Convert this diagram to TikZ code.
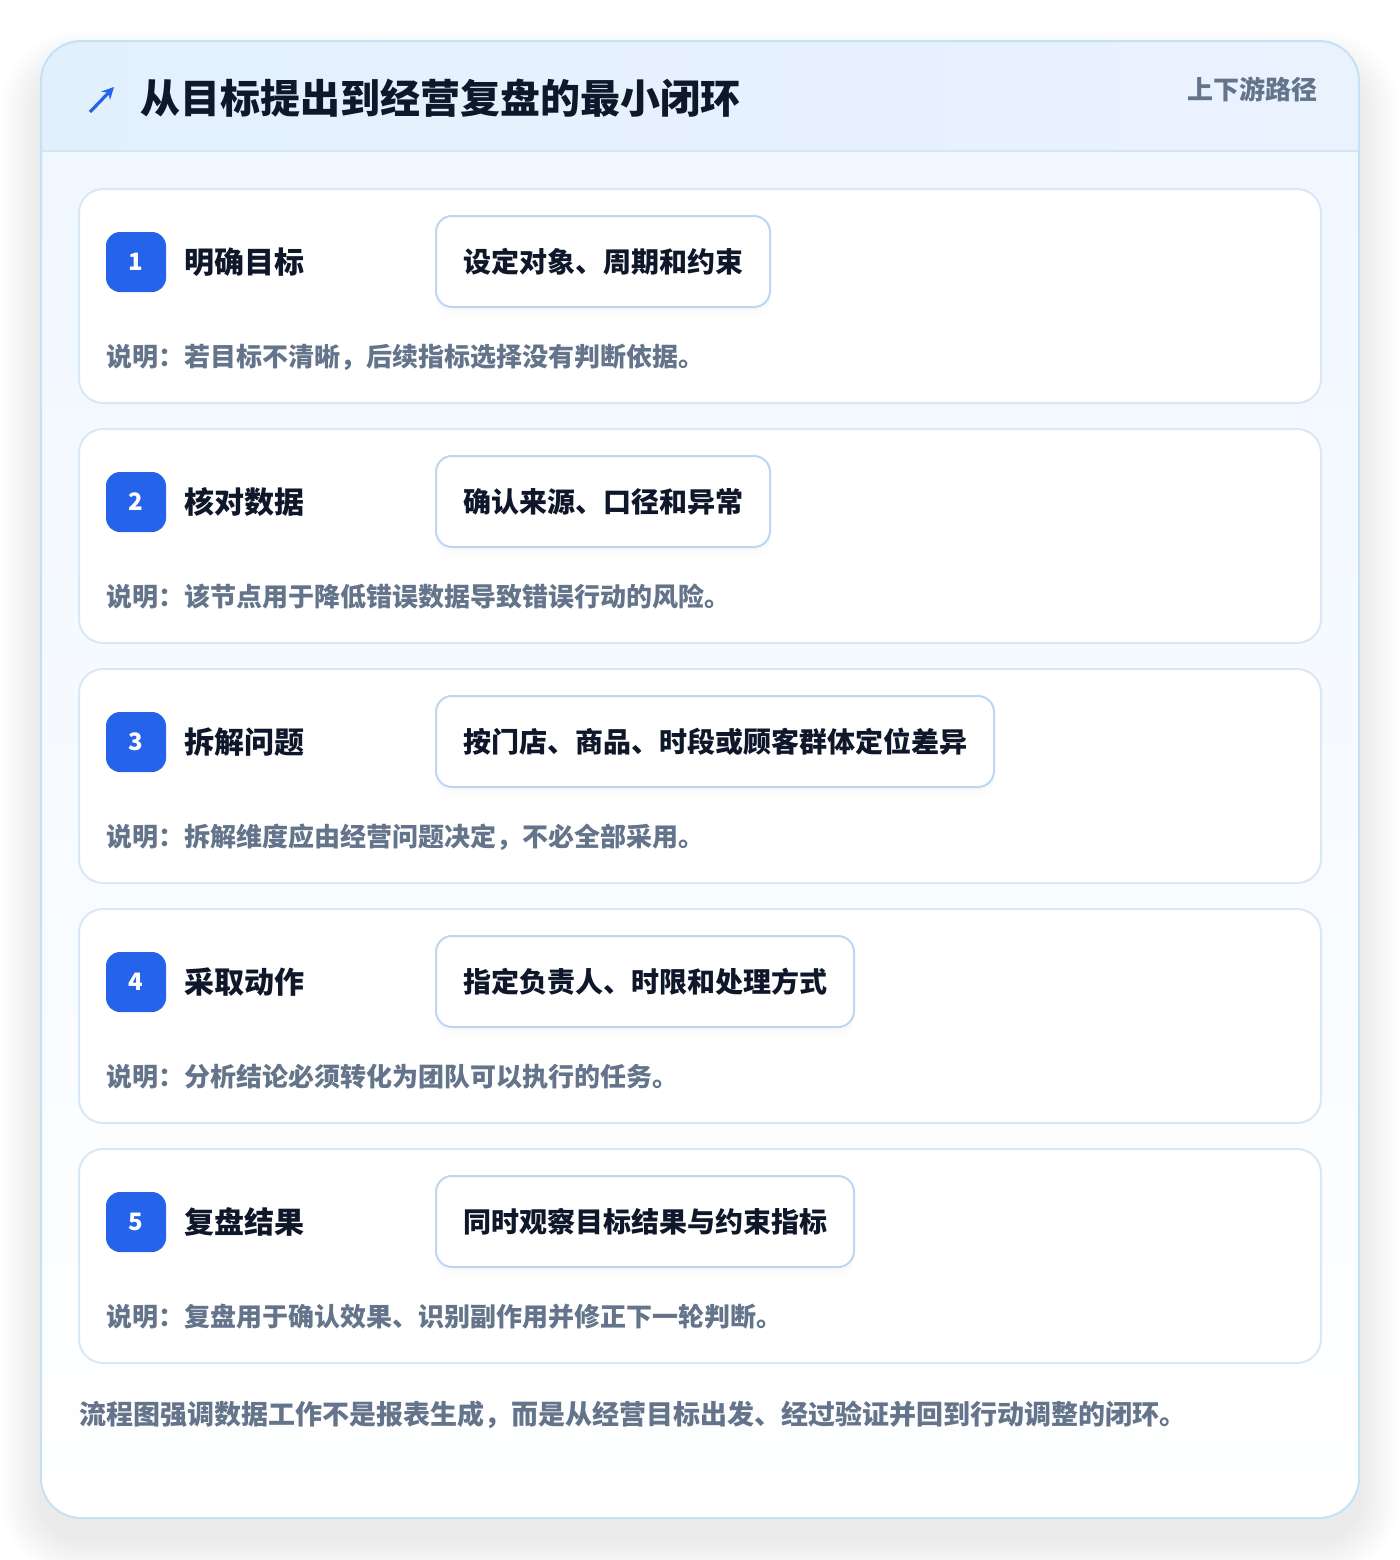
\documentclass[tikz,border=0pt]{standalone}
\usepackage{fontspec}
\setmainfont{Noto Sans CJK SC}
\usetikzlibrary{positioning,shadows,arrows.meta}

\definecolor{stepblue}{HTML}{2563EB}
\definecolor{inkdark}{HTML}{0F172A}
\definecolor{inkgray}{HTML}{64748B}
\definecolor{hdrleft}{HTML}{E2F0FD}
\definecolor{hdrright}{HTML}{EAF2FE}
\definecolor{bodytop}{HTML}{F0F7FF}
\definecolor{panelline}{HTML}{C3E2F6}
\definecolor{hdrline}{HTML}{D3E6F8}
\definecolor{cardline}{HTML}{D9E8F6}
\definecolor{pillline}{HTML}{BDD6F1}

\begin{document}
\begin{tikzpicture}[
  x=0.5pt,y=-0.5pt,
  every node/.style={inner sep=0pt,font=\bfseries},
  card/.style={draw=cardline,line width=1pt,fill=white,rounded corners=12pt,
    minimum width=621pt,minimum height=107pt},
  badge/.style={fill=stepblue,text=white,rounded corners=7pt,minimum size=30pt,
    font=\fontsize{12}{14}\selectfont\bfseries},
  steptitle/.style={anchor=west,text=inkdark,font=\fontsize{15}{18}\selectfont\bfseries},
  pill/.style={anchor=west,draw=pillline,line width=1pt,fill=white,rounded corners=8pt,
    minimum height=45.5pt,inner xsep=13.5pt,text=inkdark,
    font=\fontsize{14}{17}\selectfont\bfseries,
    drop shadow={opacity=0.025,shadow xshift=0pt,shadow yshift=-2pt},
    drop shadow={opacity=0.025,shadow xshift=0pt,shadow yshift=-5pt}},
  desc/.style={anchor=west,text=inkgray,font=\fontsize{13}{16}\selectfont\bfseries},
  ]
  \useasboundingbox (0,0) rectangle (1400,1560);
  % soft shadow of the panel
  \foreach \i in {1,...,10}{
    \pgfmathsetmacro\r{4*\i}
    \fill[black,opacity=0.007,rounded corners=20pt+\r*0.5pt]
      (41-\r,71-\r) rectangle (1359+\r,1538+\r);
  }
  % panel
  \begin{scope}
    \clip[rounded corners=20pt] (41,41) rectangle (1359,1518);
    \shade[left color=hdrleft,right color=hdrright] (41,41) rectangle (1359,151);
    \shade[top color=bodytop,bottom color=white] (41,151) rectangle (1359,1518);
  \end{scope}
  \draw[hdrline,line width=1pt] (41,151) -- (1359,151);
  \draw[panelline,line width=1pt,rounded corners=20pt] (41,41) rectangle (1359,1518);

  % header
  \draw[stepblue,line width=1.6pt,-{Stealth[length=6pt,width=6pt]}] (90,112) -- (114,87);
  \node[anchor=west,text=inkdark,font=\fontsize{20}{24}\selectfont\bfseries] (title) at (140,98)
    {从目标提出到经营复盘的最小闭环};
  \node[anchor=east,text=inkgray,font=\fontsize{13}{16}\selectfont\bfseries] (route) at (1318,89)
    {上下游路径};

  % step 1
  \node[card] (card1) at (700,296) {};
  \node[badge] (badge1) at (136,262) {1};
  \node[steptitle,right=9pt of badge1] (name1) {明确目标};
  \node[pill] (pill1) at (435,261.5) {设定对象、周期和约束};
  \node[desc] (note1) at (106,357) {说明：若目标不清晰，后续指标选择没有判断依据。};

  % step 2
  \node[card] (card2) at (700,536) {};
  \node[badge] (badge2) at (136,502) {2};
  \node[steptitle,right=9pt of badge2] (name2) {核对数据};
  \node[pill] (pill2) at (435,501.5) {确认来源、口径和异常};
  \node[desc] (note2) at (106,597) {说明：该节点用于降低错误数据导致错误行动的风险。};

  % step 3
  \node[card] (card3) at (700,776) {};
  \node[badge] (badge3) at (136,742) {3};
  \node[steptitle,right=9pt of badge3] (name3) {拆解问题};
  \node[pill] (pill3) at (435,741.5) {按门店、商品、时段或顾客群体定位差异};
  \node[desc] (note3) at (106,837) {说明：拆解维度应由经营问题决定，不必全部采用。};

  % step 4
  \node[card] (card4) at (700,1016) {};
  \node[badge] (badge4) at (136,982) {4};
  \node[steptitle,right=9pt of badge4] (name4) {采取动作};
  \node[pill] (pill4) at (435,981.5) {指定负责人、时限和处理方式};
  \node[desc] (note4) at (106,1077) {说明：分析结论必须转化为团队可以执行的任务。};

  % step 5
  \node[card] (card5) at (700,1256) {};
  \node[badge] (badge5) at (136,1222) {5};
  \node[steptitle,right=9pt of badge5] (name5) {复盘结果};
  \node[pill] (pill5) at (435,1221.5) {同时观察目标结果与约束指标};
  \node[desc] (note5) at (106,1317) {说明：复盘用于确认效果、识别副作用并修正下一轮判断。};

  % footer
  \node[desc,font=\fontsize{13.5}{16}\selectfont\bfseries] (summary) at (79,1415)
    {流程图强调数据工作不是报表生成，而是从经营目标出发、经过验证并回到行动调整的闭环。};
\end{tikzpicture}
\end{document}
